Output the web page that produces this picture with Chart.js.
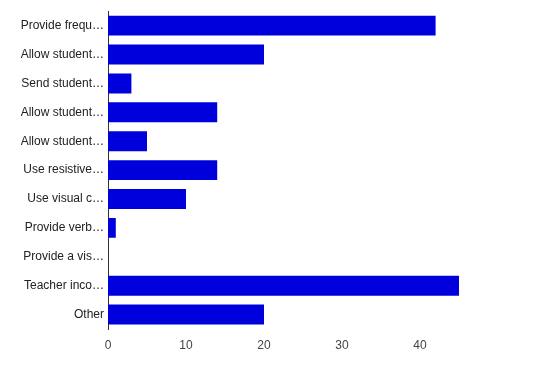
<html lang="en">
<head>
  <meta charset="UTF-8">
  <title>Strategies chart</title>
  <script src="https://cdn.jsdelivr.net/npm/chart.js"></script>
  <style>
    body, html {
      margin: 0;
      padding: 0;
      background-color: #ffffff;
    }
    .chart-container {
      width: 550px;
      height: 371px;
    }
  </style>
</head>
<body>
  <div class="chart-container"><canvas id="myChart" width="550" height="371"></canvas></div>
  <script>
    const categories = [
      'Provide frequ\u2026',
      'Allow student\u2026',
      'Send student\u2026',
      'Allow student\u2026',
      'Allow student\u2026',
      'Use resistive\u2026',
      'Use visual c\u2026',
      'Provide verb\u2026',
      'Provide a vis\u2026',
      'Teacher inco\u2026',
      'Other'
    ];
    const counts = [42, 20, 3, 14, 5, 14, 10, 1, 0, 45, 20];
    const xTicks = [0, 10, 20, 30, 40];

    const ctx = document.getElementById('myChart').getContext('2d');
    const myChart = new Chart(ctx, {
      type: 'bar',
      data: {
        labels: categories,
        datasets: [{
          data: counts,
          backgroundColor: '#0000dc',
          borderWidth: 0,
          categoryPercentage: 1,
          barPercentage: 0.69
        }]
      },
      options: {
        indexAxis: 'y',
        responsive: false,
        animation: false,
        layout: {
          padding: { top: 10, right: 91, left: 0, bottom: 0 }
        },
        plugins: {
          legend: { display: false },
          tooltip: { enabled: false }
        },
        scales: {
          x: {
            min: 0,
            max: 45,
            grid: { display: false, drawTicks: false },
            border: { display: false },
            afterBuildTicks(scale) {
              scale.ticks = xTicks.map(v => ({ value: v }));
            },
            afterFit(scale) {
              scale.height = 42;
            },
            ticks: {
              padding: 9,
              color: '#444444',
              font: { family: 'Arial, "Liberation Sans", sans-serif', size: 12 }
            }
          },
          y: {
            grid: { display: false, drawTicks: false },
            border: { display: true, color: '#333333', width: 1 },
            afterFit(scale) {
              scale.width = 108;
            },
            ticks: {
              padding: 4,
              color: '#222222',
              font: { family: 'Arial, "Liberation Sans", sans-serif', size: 12 }
            }
          }
        }
      }
    });
  </script>
</body>
</html>
